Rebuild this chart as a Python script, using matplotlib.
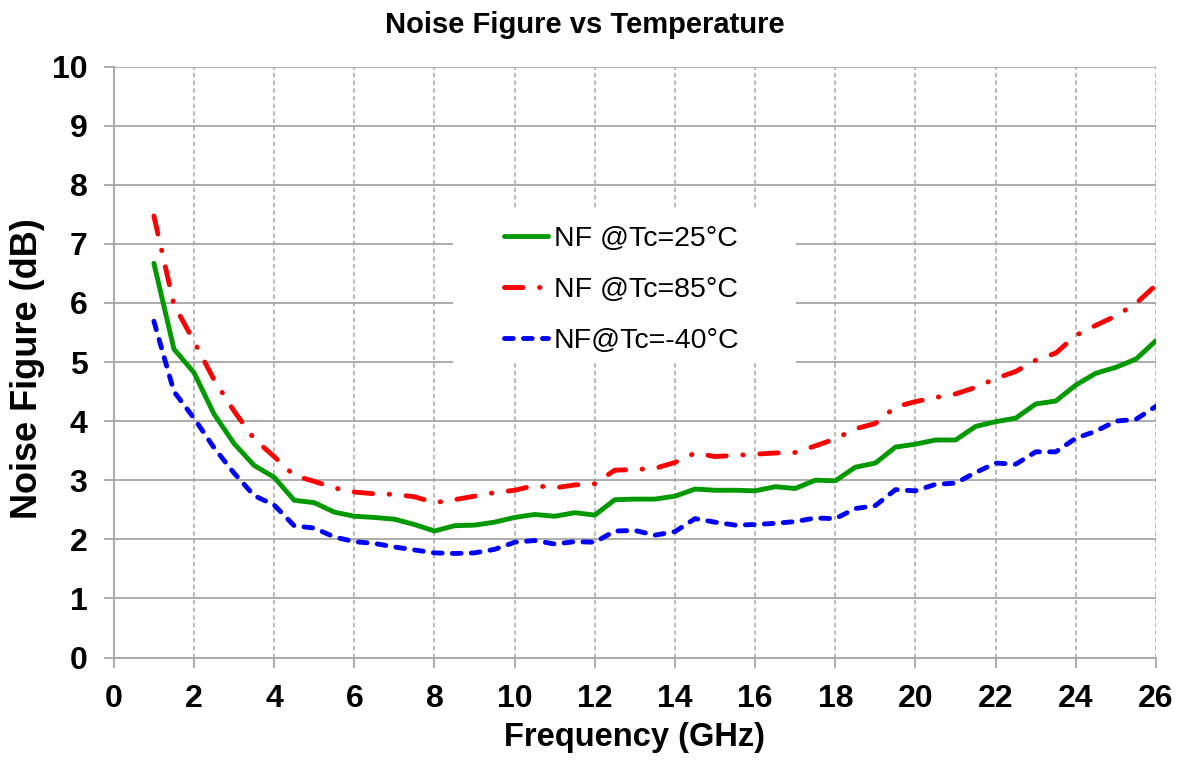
import matplotlib
matplotlib.use("Agg")
import matplotlib.pyplot as plt
from matplotlib.patches import Rectangle

# ---------------- data ----------------
freq_ghz = [1, 1.5, 2, 2.5, 3, 3.5, 4, 4.5, 5, 5.5, 6, 6.5, 7, 7.5, 8, 8.5, 9, 9.5,
            10, 10.5, 11, 11.5, 12, 12.5, 13, 13.5, 14, 14.5, 15, 15.5, 16, 16.5,
            17, 17.5, 18, 18.5, 19, 19.5, 20, 20.5, 21, 21.5, 22, 22.5, 23, 23.5,
            24, 24.5, 25, 25.5, 26]

nf_25c = [6.67, 5.22, 4.82, 4.12, 3.62, 3.25, 3.05, 2.66, 2.62, 2.46, 2.39, 2.37,
          2.34, 2.25, 2.14, 2.23, 2.24, 2.29, 2.37, 2.42, 2.39, 2.45, 2.41, 2.67,
          2.68, 2.68, 2.73, 2.85, 2.83, 2.83, 2.82, 2.89, 2.86, 3.00, 2.99, 3.22,
          3.29, 3.56, 3.61, 3.68, 3.68, 3.91, 3.99, 4.05, 4.29, 4.34, 4.61, 4.81,
          4.91, 5.05, 5.36]

nf_85c = [7.47, 5.97, 5.35, 4.70, 4.17, 3.70, 3.40, 3.08, 2.98, 2.87, 2.80, 2.77,
          2.76, 2.72, 2.62, 2.67, 2.73, 2.79, 2.83, 2.91, 2.87, 2.92, 2.94, 3.17,
          3.18, 3.20, 3.30, 3.46, 3.40, 3.42, 3.44, 3.46, 3.47, 3.58, 3.70, 3.87,
          3.96, 4.24, 4.33, 4.40, 4.46, 4.57, 4.72, 4.84, 5.03, 5.15, 5.45, 5.62,
          5.78, 5.99, 6.30]

nf_m40c = [5.69, 4.50, 4.05, 3.55, 3.12, 2.74, 2.58, 2.23, 2.19, 2.04, 1.96, 1.93,
           1.87, 1.82, 1.77, 1.76, 1.77, 1.83, 1.95, 1.98, 1.92, 1.96, 1.95, 2.14,
           2.15, 2.07, 2.13, 2.35, 2.29, 2.24, 2.25, 2.27, 2.30, 2.36, 2.35, 2.52,
           2.57, 2.84, 2.82, 2.93, 2.95, 3.13, 3.29, 3.27, 3.48, 3.48, 3.71, 3.83,
           4.00, 4.03, 4.25]

labels = ["NF @Tc=25°C", "NF @Tc=85°C", "NF@Tc=-40°C"]
x_ticks = list(range(0, 27, 2))
y_ticks = list(range(0, 11))

title = "Noise Figure vs Temperature"
x_label = "Frequency (GHz)"
y_label = "Noise Figure (dB)"

# ---------------- style ----------------
plt.rcParams['font.family'] = ['Liberation Sans', 'DejaVu Sans']

W, H = 1186, 760
fig = plt.figure(figsize=(W / 100, H / 100), dpi=100)
ax_l, ax_r, ax_t, ax_b = 113.8, 1156, 66.5, 657.5
ax = fig.add_axes([ax_l / W, 1 - ax_b / H, (ax_r - ax_l) / W, (ax_b - ax_t) / H])

grid_c = '#a6a6a6'
ax.set_xlim(0, 26)
ax.set_ylim(0, 10)
ax.set_xticks(x_ticks)
ax.set_yticks(y_ticks)
ax.set_axisbelow(True)
ax.yaxis.grid(True, color=grid_c, linewidth=1.3, linestyle='-')
ax.xaxis.grid(True, color=grid_c, linewidth=1.1, linestyle=(0, (3, 2)))

for s in ['top', 'right']:
    ax.spines[s].set_visible(False)
for s in ['left', 'bottom']:
    ax.spines[s].set_color(grid_c)
    ax.spines[s].set_linewidth(1.3)

ax.tick_params(axis='both', direction='out', length=7, width=1.3, color=grid_c,
               labelsize=23, pad=12)
for lab in ax.get_xticklabels() + ax.get_yticklabels():
    lab.set_fontweight('bold')

lw = 3.5
ax.plot(freq_ghz, nf_25c, color='#009900', lw=lw, solid_capstyle='round',
        solid_joinstyle='round', label=labels[0], zorder=3)
l85, = ax.plot(freq_ghz, nf_85c, color='#ff0000', lw=lw, dash_capstyle='round',
               dash_joinstyle='round', label=labels[1], zorder=3)
l85.set_dashes([3.8, 3.4, 0.1, 3.4])
lm40, = ax.plot(freq_ghz, nf_m40c, color='#0000ff', lw=lw, dash_capstyle='round',
                dash_joinstyle='round', label=labels[2], zorder=3)
lm40.set_dashes([1.8, 2.1])

# white legend area covering the grid
ax.add_patch(Rectangle((8.46 / 26, 4.98 / 10), (17.01 - 8.46) / 26, (7.61 - 4.98) / 10,
                       transform=ax.transAxes, facecolor='white', edgecolor='none',
                       zorder=1))
leg = ax.legend(loc='upper left', bbox_to_anchor=(504 / W, 1 - 225.5 / H),
                bbox_transform=fig.transFigure, frameon=False, fontsize=20.5,
                handlelength=1.55, handletextpad=0.2, labelspacing=0.88,
                borderpad=0, borderaxespad=0)
leg.set_zorder(4)

fig.text(585 / W, 1 - 33 / H, title, ha='center', va='baseline',
         fontsize=21, fontweight='bold')
ax.set_xlabel(x_label, fontsize=23.5, fontweight='bold')
ax.xaxis.set_label_coords((634 - ax_l) / (ax_r - ax_l), (ax_b - 722) / (ax_b - ax_t))
ax.set_ylabel(y_label, fontsize=26, fontweight='bold')
ax.yaxis.set_label_coords((28 - ax_l) / (ax_r - ax_l), (ax_b - 369) / (ax_b - ax_t))
ax.yaxis.label.set_va('center')

fig.savefig('out.png', dpi=100)
